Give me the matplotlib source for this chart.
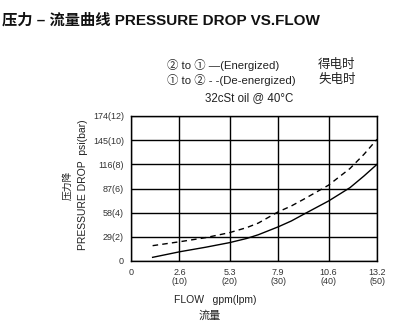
import numpy as np
import matplotlib
matplotlib.use("Agg")
import matplotlib.pyplot as plt

plt.rcParams['font.family'] = ['Liberation Sans', 'Noto Sans CJK SC', 'DejaVu Sans']

# flow in gpm, pressure drop in psi
x_ticks = [0, 2.6, 5.3, 7.9, 10.6, 13.2]
x_labels = ["0", "2.6\n(10)", "5.3\n(20)", "7.9\n(30)", "10.6\n(40)", "13.2\n(50)"]
y_ticks = [0, 29, 58, 87, 116, 145, 174]
y_labels = ["0", "29(2)", "58(4)", "87(6)", "116(8)", "145(10)", "174(12)"]

flow_solid = [1.16, 2.64, 4.0, 5.28, 6.2, 6.83, 7.9, 8.6, 9.26, 10.6, 11.75, 12.5, 13.2]
psi_solid = [4.4, 11.2, 16.5, 22, 27, 31.5, 41, 48, 56, 72, 88, 102, 116]
flow_dash = [1.16, 2.64, 4.0, 5.28, 6.2, 6.83, 7.9, 8.6, 9.26, 10.6, 11.75, 12.5, 13.2]
psi_dash = [18.4, 23.2, 28, 34, 40, 45.5, 59, 66, 74, 91, 111, 128, 146]

fig = plt.figure(figsize=(4.01, 3.27), dpi=100)
ax = fig.add_axes([131/401, 66/327, 246/401, 145/327])

ax.plot(flow_solid, psi_solid, color='black', lw=1.0)
ax.plot(flow_dash, psi_dash, color='black', lw=1.0, dashes=(4, 3))

ax.set_xlim(0, 13.2)
ax.set_ylim(0, 174)
ax.set_xticks(x_ticks)
ax.set_xticklabels(x_labels, fontsize=6.5, color='#333333', linespacing=1.0)
ax.set_yticks(y_ticks)
ax.set_yticklabels(y_labels, fontsize=6.5, color='#333333')
ax.tick_params(length=0, pad=5)
ax.grid(True, color='black', lw=1.0)
for s in ax.spines.values():
    s.set_color('black')
    s.set_linewidth(1.0)

fig.text(0.005, 1 - 20/327, "压力 – 流量曲线 PRESSURE DROP VS.FLOW", fontsize=11,
         fontweight='bold', va='center', ha='left', color='#111111')

fig.text(167/401, 1 - 65/327, "② to ① —(Energized)", fontsize=8.2, va='center', color='#222222')
fig.text(167/401, 1 - 80/327, "① to ② - -(De-energized)", fontsize=8.2, va='center', color='#222222')
fig.text(318/401, 1 - 65/327, "得电时", fontsize=9, va='center', color='#222222')
fig.text(318/401, 1 - 80/327, "失电时", fontsize=9, va='center', color='#222222')
fig.text(205/401, 1 - 98/327, "32cSt oil @ 40°C", fontsize=8.3, va='center', color='#222222')

fig.text(83/401, 1 - 185/327, "PRESSURE DROP  psi(bar)", fontsize=7.5, rotation=90,
         va='center', ha='center', color='#222222')
fig.text(67/401, 1 - 185/327, "压力降", fontsize=7, rotation=90,
         va='center', ha='center', color='#222222')
fig.text(215/401, 1 - 300/327, "FLOW   gpm(lpm)", fontsize=7.5, va='center', ha='center', color='#222222')
fig.text(210/401, 1 - 316/327, "流量", fontsize=8, va='center', ha='center', color='#222222')

fig.savefig("out.png", dpi=100)
